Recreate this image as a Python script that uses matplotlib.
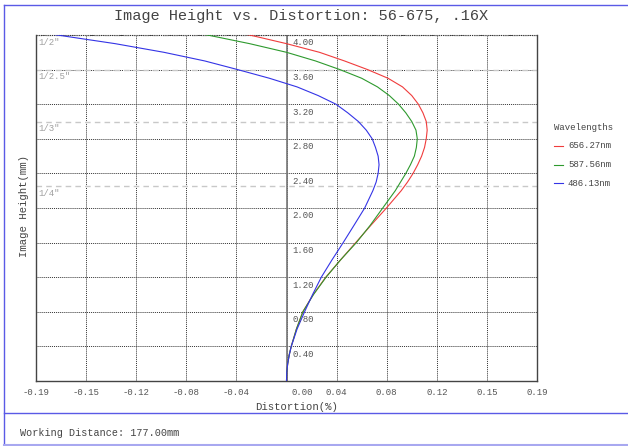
import numpy as np
import matplotlib
matplotlib.use("Agg")
import matplotlib.pyplot as plt
from matplotlib.lines import Line2D

plt.rcParams['font.family'] = ['Liberation Mono', 'DejaVu Sans Mono']

title = "Image Height vs. Distortion: 56-675, .16X"
xlabel = "Distortion(%)"
ylabel = "Image Height(mm)"
footer = "Working Distance: 177.00mm"

wavelengths = ["656.27nm", "587.56nm", "486.13nm"]
colors = ["#f03c3c", "#2e9a2e", "#3434e6"]

heights = [0.0, 0.1, 0.2, 0.3, 0.4, 0.6, 0.8, 1.0, 1.2, 1.4, 1.6, 1.8, 2.0,
           2.2, 2.3, 2.4, 2.5, 2.6, 2.7, 2.8, 2.9, 3.0, 3.1, 3.2, 3.3, 3.4,
           3.5, 3.6, 3.7, 3.8, 3.9, 4.0, 4.1]
dist_red = [0.0, 0.0002, 0.0009, 0.0020, 0.0036, 0.0075, 0.0124, 0.0203, 0.0298,
            0.0410, 0.0525, 0.0640, 0.0758,
            0.0870, 0.0918, 0.0960, 0.0995, 0.1025, 0.1047, 0.1060, 0.1067, 0.1060,
            0.1035, 0.1000, 0.0950, 0.0880,
            0.0770, 0.0615, 0.0440, 0.0250, 0.0000, -0.0280, -0.0650]
dist_green = [0.0, 0.0002, 0.0009, 0.0020, 0.0036, 0.0075, 0.0124, 0.0205, 0.0300,
              0.0410, 0.0530, 0.0635, 0.0730,
              0.0825, 0.0865, 0.0905, 0.0940, 0.0970, 0.0985, 0.0992, 0.0982, 0.0950,
              0.0905, 0.0850, 0.0780, 0.0690,
              0.0570, 0.0405, 0.0220, 0.0000, -0.0280, -0.0600, -0.1000]
dist_blue = [0.0, 0.0002, 0.0009, 0.0021, 0.0036, 0.0080, 0.0137, 0.0198, 0.0264,
             0.0345, 0.0430, 0.0512, 0.0593,
             0.0655, 0.0680, 0.0695, 0.0702, 0.0695, 0.0675, 0.0650, 0.0605, 0.0545,
             0.0465, 0.0375, 0.0240, 0.0080,
             -0.0130, -0.0370, -0.0620, -0.0930, -0.1300, -0.1740, -0.2200]

xtick_labels = ["-0.19", "-0.15", "-0.12", "-0.08", "-0.04", "0.00",
                "0.04", "0.08", "0.12", "0.15", "0.19"]
yticks = [0.4, 0.8, 1.2, 1.6, 2.0, 2.4, 2.8, 3.2, 3.6, 4.0]
ytick_labels = ["0.40", "0.80", "1.20", "1.60", "2.00", "2.40", "2.80", "3.20", "3.60", "4.00"]

sensor_names = ['1/2"', '1/2.5"', '1/3"', '1/4"']
sensor_heights = [4.0, 3.6, 3.0, 2.25]

W, H = 628, 446
fig = plt.figure(figsize=(W / 100, H / 100), dpi=100)
ax = fig.add_axes([36 / W, 1 - 381 / H, (537 - 36) / W, (381 - 35) / H])
ax.set_xlim(-0.19, 0.19)
ax.set_ylim(0, 4.0)
xticks = np.linspace(-0.19, 0.19, 11)

# grid
for xv in xticks[1:-1]:
    ax.axvline(xv, color="#333333", lw=0.7, ls=(0, (1, 1)), zorder=1)
for yv in yticks:
    ax.axhline(yv, color="#333333", lw=0.7, ls=(0, (1, 1)), zorder=1)
ax.axvline(0, color="#777777", lw=1.2, zorder=2)

# sensor lines
for name, hv in zip(sensor_names, sensor_heights):
    ax.axhline(hv, color="#c8c8c8", lw=1.0, ls=(0, (4, 3)), zorder=1)
    ax.text(0.004, hv - 0.03, name, transform=ax.get_yaxis_transform(),
            ha="left", va="top", fontsize=6.5, color="#a0a0a0")

for d, c in zip([dist_red, dist_green, dist_blue], colors):
    ax.plot(d, heights, color=c, lw=0.8, zorder=3, clip_on=True)

ax.set_xticks(xticks)
ax.set_xticklabels([])
ax.set_yticks(yticks)
ax.set_yticklabels([])
ax.tick_params(axis="both", length=0)

# x tick labels
for xv, lab in zip(xticks, xtick_labels):
    off = 0.012 if lab == "0.00" else 0.0
    ax.text(xv + off, -0.02, lab, transform=ax.get_xaxis_transform(),
            ha="center", va="top", fontsize=6.5, color="#555555")
# y tick labels inside
for yv, lab in zip(yticks, ytick_labels):
    ax.text(0.0045, yv - 0.04, lab, ha="left", va="top", fontsize=6.5,
            color="#555555", zorder=4)

for s in ["left", "bottom", "right"]:
    ax.spines[s].set_color("#444444")
    ax.spines[s].set_linewidth(1.0)
ax.spines["top"].set_visible(False)
ax.axhline(4.0, color="#333333", lw=0.8, ls=(0, (1, 1)), clip_on=False)

txt = "#444444"
fig.text(301 / W, 1 - 16 / H, title, ha="center", va="center", fontsize=11, color=txt)
fig.text(297 / W, 1 - 407 / H, xlabel, ha="center", va="center", fontsize=7.7, color=txt)
fig.text(24 / W, 1 - 206 / H, ylabel, ha="center", va="center", rotation=90,
         fontsize=7.7, color=txt)
fig.text(20 / W, 1 - 433 / H, footer, ha="left", va="center", fontsize=7.3, color=txt)

# legend
fig.text(554 / W, 1 - 128 / H, "Wavelengths", ha="left", va="center", fontsize=6.5, color=txt)
for i, (lab, c) in enumerate(zip(wavelengths, colors)):
    yy = 1 - (146 + 18.5 * i) / H
    fig.add_artist(Line2D([554 / W, 563 / W], [yy, yy], color=c, lw=0.8))
    fig.text(568 / W, yy, lab, ha="left", va="center", fontsize=6.5, color=txt)

# outer frame lines
blue = "#5a5ae6"
fig.add_artist(Line2D([4 / W, 1], [1 - 4.5 / H, 1 - 4.5 / H], color=blue, lw=1.0))
fig.add_artist(Line2D([4 / W, 4 / W], [1 - 4.5 / H, 1 - 445 / H], color=blue, lw=1.0))
fig.add_artist(Line2D([4 / W, 1], [1 - 413 / H, 1 - 413 / H], color=blue, lw=1.0))
fig.add_artist(Line2D([4 / W, 1], [1 - 445 / H, 1 - 445 / H], color="#a8a8f0", lw=1.5))

fig.savefig("out.png", dpi=100)
